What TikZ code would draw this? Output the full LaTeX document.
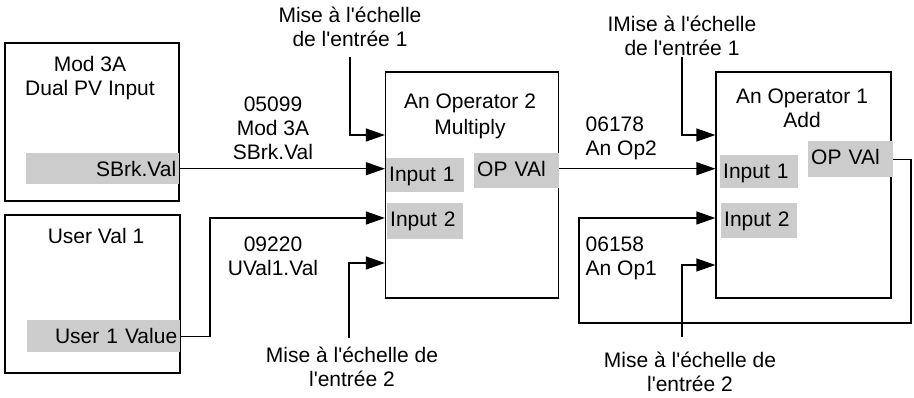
\documentclass[tikz,border=0pt]{standalone}
\usepackage{fontspec}
\setmainfont{Liberation Sans}[Ligatures=TeXOff]
\usetikzlibrary{arrows.meta}
\begin{document}
\begin{tikzpicture}[x=1pt,y=-1pt,
  font=\fontsize{21}{24}\selectfont,
  wire/.style={line width=1.2pt},
  arr/.style={line width=1.2pt,-{Triangle[length=19pt,width=13pt]}},
  blk/.style={draw,line width=1.2pt,inner sep=0pt},
  port/.style={fill=gray!40,inner xsep=3pt,inner ysep=0pt,text height=23pt,anchor=north west},
  lbl/.style={inner sep=0pt,align=center,anchor=north},
  lbll/.style={inner sep=0pt,align=left,anchor=north west},
]
\useasboundingbox (0,0) rectangle (914,397);

% blocks
\node[blk,minimum width=174pt,minimum height=158pt] (m3) at (92,122) {};
\node[blk,minimum width=175pt,minimum height=158pt] (uv) at (92.5,294) {};
\node[blk,minimum width=173pt,minimum height=226pt] (op2) at (472,185) {};
\node[blk,minimum width=175pt,minimum height=226pt] (op1) at (803.5,185) {};

% block titles
\node[lbl] (t1) at (90,56) {Mod 3A\\Dual PV Input};
\node[lbl] (t2) at (96,228) {User Val 1};
\node[lbl] (t3) at (470,94) {An Operator 2\\[2pt]Multiply};
\node[lbl] (t4) at (802,89) {An Operator 1\\Add};

% ports
\node[port,text depth=8pt,text width=147pt,align=right] (sbrk) at (26,153) {SBrk.Val};
\node[port,text depth=9pt,text width=147pt,align=right] (uvv) at (27,320) {User 1 Value};
\node[port,text depth=11pt,text width=72pt,align=left] (o2i1) at (386,158) {Input 1};
\node[port,text depth=13pt,text width=70pt,align=left] (o2i2) at (387,203) {Input 2};
\node[port,text depth=12pt,text width=79pt,align=left] (o2out) at (474,153) {OP VAl};
\node[port,text depth=10pt,text width=72pt,align=left] (o1i1) at (720,155) {Input 1};
\node[port,text depth=12pt,text width=70pt,align=left] (o1i2) at (721,203) {Input 2};
\node[port,text depth=13pt,text width=79pt,align=left] (o1out) at (808,141) {OP VAl};

% labels
\node[lbl] (sc1) at (350,7) {Mise à l'échelle\\de l'entrée 1};
\node[lbl] (sc2) at (682,16) {IMise à l'échelle\\de l'entrée 1};
\node[lbl] (sc3) at (352,347) {Mise à l'échelle de\\l'entrée 2};
\node[lbl] (sc4) at (690,352) {Mise à l'échelle de\\l'entrée 2};
\node[lbl] (l1) at (273,97) {05099\\Mod 3A\\SBrk.Val};
\node[lbl] (l2) at (273,237) {09220\\UVal1.Val};
\node[lbll] (l3) at (585.5,117) {06178\\An Op2};
\node[lbll] (l4) at (585.5,237) {06158\\An Op1};

% wire coordinates
\coordinate (a1) at (350,57);
\coordinate (a1b) at (350,135);
\coordinate (a2) at (349,338);
\coordinate (a2b) at (349,263);
\coordinate (b1) at (682,57);
\coordinate (b1b) at (682,135);
\coordinate (b2) at (682,337);
\coordinate (b2b) at (682,265);
\coordinate (j2) at (210,218);
\coordinate (f1) at (911,323);
\coordinate (f2) at (579,218);

% connectors
\draw[arr] (sbrk.east) -- (sbrk.east -| op2.west);
\draw[arr] (uvv.east) -| (j2) -- (j2 -| op2.west);
\draw[arr] (a1) -- (a1b) -- (a1b -| op2.west);
\draw[arr] (a2) -- (a2b) -- (a2b -| op2.west);
\draw[arr] ([yshift=2pt]o2out.east) -- ([yshift=2pt]o2out.east -| op1.west);
\draw[arr] (b1) -- (b1b) -- (b1b -| op1.west);
\draw[arr] (b2) -- (b2b) -- (b2b -| op1.west);
\draw[arr] (o1out.east) -| (f1) -| (f2) -- (f2 -| op1.west);
\end{tikzpicture}
\end{document}
